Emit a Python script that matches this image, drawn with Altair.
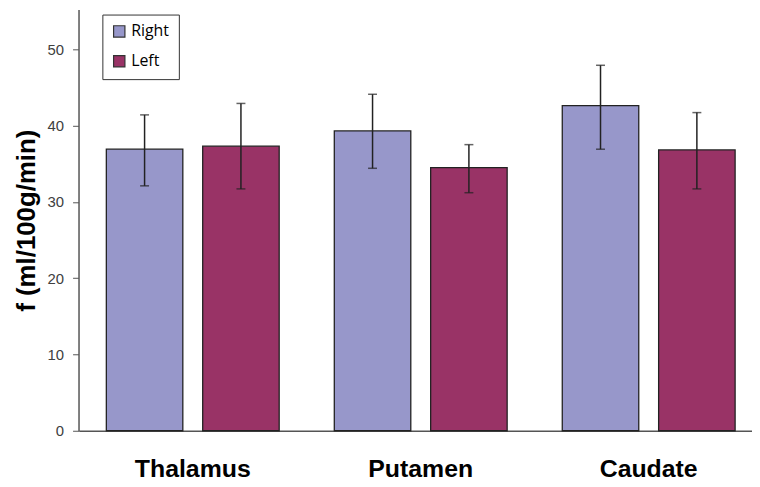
import altair as alt
import pandas as pd

regions = ["Thalamus", "Putamen", "Caudate"]
sides = ["Right", "Left"]
right_vals = [36.9, 39.3, 42.6]
right_hi = [41.4, 44.1, 47.9]
right_lo = [32.1, 34.4, 36.9]
left_vals = [37.3, 34.5, 36.8]
left_hi = [42.9, 37.5, 41.7]
left_lo = [31.7, 31.2, 31.7]
colors = ["#9797CA", "#993366"]

rows = []
for i, r in enumerate(regions):
    rows.append({"region": r, "side": "Right", "value": right_vals[i], "hi": right_hi[i], "lo": right_lo[i]})
    rows.append({"region": r, "side": "Left", "value": left_vals[i], "hi": left_hi[i], "lo": left_lo[i]})
df = pd.DataFrame(rows)

x = alt.X("region:N", sort=regions, title=None,
          scale=alt.Scale(paddingInner=0, paddingOuter=0, range=[0.25, 688.75]),
          axis=alt.Axis(labelAngle=0, labelFont="Liberation Sans", labelFontSize=25,
                        labelFontWeight="bold", labelColor="#000", labelPadding=46,
                        labelBaseline="alphabetic",
                        ticks=False, domainColor="#555", domainWidth=1.5))
xo = alt.XOffset("side:N", sort=sides,
                 scale=alt.Scale(paddingInner=0.2062, paddingOuter=0.286))

base = alt.Chart(df)

bars = base.mark_bar(stroke="#222", strokeWidth=1.3).encode(
    x=x,
    xOffset=xo,
    y=alt.Y("value:Q", title="f (ml/100g/min)",
            scale=alt.Scale(domain=[0, 55.2], nice=False),
            axis=alt.Axis(values=[0, 10, 20, 30, 40, 50], grid=False,
                          labelFont="Liberation Sans", labelFontSize=15, labelColor="#404040",
                          titleFont="Liberation Sans", titleFontSize=26, titleFontWeight="bold",
                          titleColor="#000", titlePadding=8, tickSize=6, tickColor="#555",
                          domainColor="#555", domainWidth=1.5, labelPadding=9)),
    color=alt.Color("side:N", sort=sides,
                    scale=alt.Scale(domain=sides, range=colors),
                    legend=alt.Legend(title=None, orient="none", legendX=24, legendY=5,
                                      strokeColor="#333", padding=9, symbolType="square",
                                      symbolSize=130, symbolStrokeColor="#333",
                                      symbolStrokeWidth=1.2, labelFont="Open Sans",
                                      labelFontSize=16, labelColor="#000", rowPadding=12,
                                      symbolOpacity=1)),
)

rules = base.mark_rule(color="#222", strokeWidth=1.5).encode(
    x=x, xOffset=xo, y="lo:Q", y2="hi:Q")
caps_hi = base.mark_tick(color="#222", thickness=1.5, size=9, orient="horizontal").encode(
    x=x, xOffset=xo, y="hi:Q")
caps_lo = base.mark_tick(color="#222", thickness=1.5, size=9, orient="horizontal").encode(
    x=x, xOffset=xo, y="lo:Q")

chart = alt.layer(bars, rules, caps_hi, caps_lo).properties(
    width=678, height=424,
    autosize=alt.AutoSizeParams(type="none"),
    padding={"left": 71, "top": 0, "right": 0, "bottom": 52},
).configure(background="white").configure_view(stroke=None)

chart.save("out.html", embed_options={"renderer": "svg", "actions": False})
